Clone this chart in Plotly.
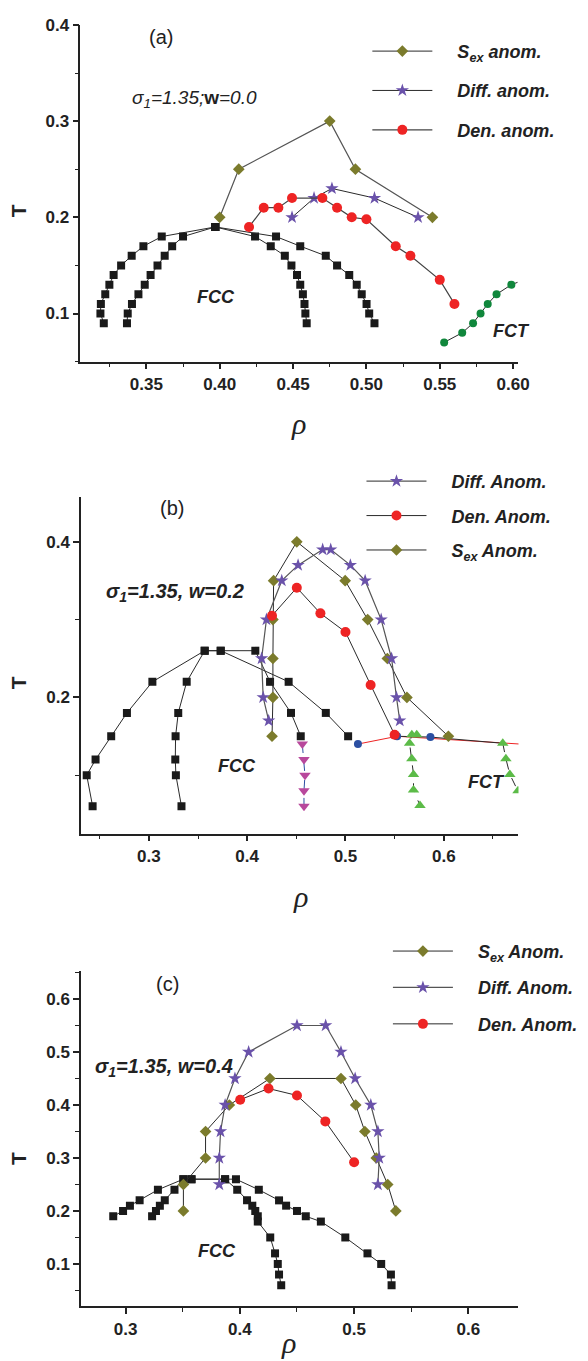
import plotly.graph_objects as go

W, H = 588, 1361

# ---------------- Panel (a): sigma1=1.35, w=0.0 ----------------
a_T_up = [0.09, 0.10, 0.11, 0.12, 0.13, 0.14, 0.15, 0.16, 0.17, 0.18, 0.19]
a_T_down = [0.19, 0.18, 0.17, 0.16, 0.15, 0.14, 0.13, 0.12, 0.11, 0.10, 0.09]
a_fcc1_rho = [0.321, 0.3187, 0.319, 0.322, 0.3248, 0.3277, 0.3328, 0.340, 0.348, 0.3605, 0.397]
a_fcc2_rho = [0.3368, 0.3373, 0.3402, 0.3446, 0.3489, 0.3529, 0.3576, 0.3625, 0.3676, 0.375, 0.397]
a_fcc3_rho = [0.397, 0.4241, 0.4348, 0.4444, 0.4489, 0.4527, 0.4549, 0.4567, 0.4578, 0.4584, 0.4593]
a_fcc4_rho = [0.397, 0.4384, 0.4549, 0.4723, 0.480, 0.4883, 0.4934, 0.4968, 0.5001, 0.5019, 0.5055]
a_sex_rho = [0.400, 0.413, 0.475, 0.4925, 0.545]
a_sex_T = [0.20, 0.25, 0.30, 0.25, 0.20]
a_diff_rho = [0.4493, 0.4643, 0.4765, 0.5055, 0.5352]
a_diff_T = [0.20, 0.22, 0.23, 0.22, 0.20]
a_den_rho = [0.420, 0.430, 0.440, 0.4493, 0.470, 0.480, 0.490, 0.500, 0.520, 0.530, 0.550, 0.560]
a_den_T = [0.19, 0.21, 0.21, 0.22, 0.22, 0.21, 0.20, 0.198, 0.17, 0.16, 0.135, 0.11]
a_fct_rho = [0.553, 0.5653, 0.5727, 0.5778, 0.5827, 0.5887, 0.5988, 0.6075]
a_fct_T = [0.07, 0.08, 0.09, 0.10, 0.11, 0.12, 0.13, 0.135]
a_xticks = [0.35, 0.40, 0.45, 0.50, 0.55, 0.60]
a_xlabels = ['0.35', '0.40', '0.45', '0.50', '0.55', '0.60']
a_yticks = [0.1, 0.2, 0.3, 0.4]
a_ylabels = ['0.1', '0.2', '0.3', '0.4']

# ---------------- Panel (b): sigma1=1.35, w=0.2 ----------------
b_fcc1_rho = [0.2428, 0.2368, 0.2458, 0.2617, 0.2777, 0.3036, 0.3568, 0.3731, 0.4422, 0.480, 0.5027]
b_fcc1_T = [0.06, 0.10, 0.12, 0.15, 0.18, 0.22, 0.26, 0.26, 0.22, 0.18, 0.15]
b_fcc2_rho = [0.3332, 0.3275, 0.3269, 0.3272, 0.3299, 0.3385, 0.3568, 0.3731, 0.4083, 0.4233, 0.4446, 0.4545]
b_fcc2_T = [0.06, 0.10, 0.12, 0.15, 0.18, 0.22, 0.26, 0.26, 0.26, 0.22, 0.18, 0.15]
b_mag_rho = [0.4561, 0.4578, 0.4588, 0.4578, 0.4578]
b_mag_T = [0.14, 0.12, 0.10, 0.08, 0.06]
b_red_rho = [0.5127, 0.5525, 0.690]
b_red_T = [0.140, 0.150, 0.139]
b_blue_rho = [0.5127, 0.5525, 0.5864]
b_blue_T = [0.140, 0.150, 0.149]
b_blk_rho = [0.5525, 0.5864, 0.6047, 0.660]
b_blk_T = [0.150, 0.149, 0.147, 0.141]
b_sex_rho = [0.4253, 0.4262, 0.4262, 0.4262, 0.4269, 0.4505, 0.4997, 0.5226, 0.5426, 0.5625, 0.6047]
b_sex_T = [0.15, 0.20, 0.25, 0.30, 0.35, 0.40, 0.35, 0.30, 0.25, 0.20, 0.15]
b_diff_rho = [0.4219, 0.4163, 0.4147, 0.4196, 0.4352, 0.4518, 0.4768, 0.485, 0.505, 0.520, 0.5363, 0.5469, 0.5519, 0.5552]
b_diff_T = [0.17, 0.20, 0.25, 0.30, 0.35, 0.37, 0.39, 0.39, 0.37, 0.35, 0.30, 0.25, 0.20, 0.17]
b_den_rho = [0.4253, 0.4505, 0.4745, 0.500, 0.5256, 0.550]
b_den_T = [0.305, 0.341, 0.308, 0.284, 0.216, 0.152]
b_grn1_rho = [0.5725, 0.5675, 0.5652, 0.5675, 0.5692, 0.5692, 0.5758]
b_grn1_T = [0.152, 0.152, 0.141, 0.121, 0.101, 0.081, 0.061]
b_grn2_rho = [0.660, 0.6632, 0.6672, 0.6755, 0.683]
b_grn2_T = [0.141, 0.121, 0.101, 0.080, 0.060]
b_xticks = [0.3, 0.4, 0.5, 0.6]
b_xlabels = ['0.3', '0.4', '0.5', '0.6']
b_yticks = [0.2, 0.4]
b_ylabels = ['0.2', '0.4']

# ---------------- Panel (c): sigma1=1.35, w=0.4 ----------------
c_fcc1_rho = [0.2892, 0.2978, 0.3038, 0.3123, 0.3283, 0.3506, 0.3577, 0.3871, 0.3966, 0.4166, 0.4343,
              0.4405, 0.450, 0.4577, 0.4709, 0.4923, 0.5117, 0.5237, 0.5322, 0.5328]
c_fcc1_T = [0.19, 0.20, 0.21, 0.22, 0.24, 0.26, 0.26, 0.26, 0.26, 0.24, 0.22,
            0.21, 0.20, 0.19, 0.18, 0.15, 0.12, 0.10, 0.08, 0.06]
c_fcc2_rho = [0.3232, 0.3266, 0.330, 0.3343, 0.3428, 0.3506, 0.3577, 0.3871, 0.3977, 0.4063, 0.4109,
              0.4135, 0.4157, 0.4157, 0.4266, 0.4308, 0.4332, 0.4343, 0.4362]
c_fcc2_T = [0.19, 0.20, 0.21, 0.22, 0.24, 0.26, 0.26, 0.26, 0.24, 0.22, 0.21,
            0.20, 0.19, 0.18, 0.15, 0.12, 0.10, 0.08, 0.06]
c_sex_rho = [0.3506, 0.3506, 0.370, 0.370, 0.3908, 0.4263, 0.4885, 0.5014, 0.5094, 0.5194, 0.5294, 0.5365]
c_sex_T = [0.20, 0.25, 0.30, 0.35, 0.40, 0.45, 0.45, 0.40, 0.35, 0.30, 0.25, 0.20]
c_diff_rho = [0.382, 0.382, 0.3831, 0.3871, 0.3957, 0.4077, 0.450, 0.4751, 0.4885, 0.5009, 0.5146, 0.5208, 0.522, 0.5208]
c_diff_T = [0.25, 0.30, 0.35, 0.40, 0.45, 0.50, 0.55, 0.55, 0.50, 0.45, 0.40, 0.35, 0.30, 0.25]
c_den_rho = [0.4003, 0.4251, 0.450, 0.4748, 0.500]
c_den_T = [0.41, 0.431, 0.418, 0.369, 0.292]
c_xticks = [0.3, 0.4, 0.5, 0.6]
c_xlabels = ['0.3', '0.4', '0.5', '0.6']
c_yticks = [0.1, 0.2, 0.3, 0.4, 0.5, 0.6]
c_ylabels = ['0.1', '0.2', '0.3', '0.4', '0.5', '0.6']

# ---------------- styles ----------------
BLK = '#1a1a1a'
OLIVE = '#7b7b2c'
PURPLE = '#6a52aa'
RED = '#ee2424'
DGREEN = '#10873c'
LGREEN = '#5cbb48'
MAGENTA = '#b8489c'
BLUE = '#2b4fa2'
LINE = dict(color='#2a2a2a', width=1)

fig = go.Figure()


def add(x, y, ax, **kw):
    xa, ya = ax
    kw.setdefault('showlegend', False)
    fig.add_trace(go.Scatter(x=x, y=y, xaxis=xa, yaxis=ya, **kw))


A, B, C = ('x', 'y'), ('x2', 'y2'), ('x3', 'y3')
sq = dict(symbol='square', size=8, color=BLK)
dia = dict(symbol='diamond', size=9, color=OLIVE)
star = dict(symbol='star', size=10, color=PURPLE)
circ = dict(symbol='circle', size=10, color=RED)

NB = '\u00a0' * 4


def LN(s):
    return NB + '<b><i>' + s + '</i></b>'


# panel a
for r, t in [(a_fcc1_rho, a_T_up), (a_fcc2_rho, a_T_up), (a_fcc3_rho, a_T_down), (a_fcc4_rho, a_T_down)]:
    add(r, t, A, mode='lines+markers', line=LINE, marker=sq)
add(a_fct_rho, a_fct_T, A, mode='lines+markers', line=LINE, marker=dict(symbol='circle', size=8, color=DGREEN))
add(a_sex_rho, a_sex_T, A, mode='lines+markers', line=dict(color='#555', width=1.2), marker=dia,
    showlegend=True, legend='legend', legendgroup='a1', legendrank=1, name=LN('S<sub>ex</sub> anom.'))
add(a_diff_rho, a_diff_T, A, mode='lines+markers', line=LINE, marker=star,
    showlegend=True, legend='legend', legendgroup='a2', legendrank=2, name=LN('Diff. anom.'))
add(a_den_rho, a_den_T, A, mode='lines+markers', line=dict(color='#444', width=1.2), marker=circ,
    showlegend=True, legend='legend', legendgroup='a3', legendrank=3, name=LN('Den. anom.'))

# panel b
add(b_fcc1_rho, b_fcc1_T, B, mode='lines+markers', line=LINE, marker=sq)
add(b_fcc2_rho, b_fcc2_T, B, mode='lines+markers', line=LINE, marker=sq)
add(b_mag_rho, b_mag_T, B, mode='lines+markers', line=dict(color=BLUE, width=1, dash='dash'),
    marker=dict(symbol='triangle-down', size=10, color=MAGENTA))
add(b_red_rho, b_red_T, B, mode='lines', line=dict(color=RED, width=1))
add(b_blk_rho, b_blk_T, B, mode='lines', line=LINE)
add(b_blue_rho, b_blue_T, B, mode='markers', marker=dict(symbol='circle', size=8, color=BLUE))
add(b_grn1_rho, b_grn1_T, B, mode='lines+markers', line=dict(color='#2a2a2a', width=1, dash='dash'),
    marker=dict(symbol='triangle-up', size=10, color=LGREEN))
add(b_grn2_rho, b_grn2_T, B, mode='lines+markers', line=dict(color='#2a2a2a', width=1, dash='dash'),
    marker=dict(symbol='triangle-up', size=10, color=LGREEN))
add(b_sex_rho, b_sex_T, B, mode='lines+markers', line=LINE, marker=dia,
    showlegend=True, legend='legend2', legendgroup='b3', legendrank=3, name=LN('S<sub>ex</sub> Anom.'))
add(b_diff_rho, b_diff_T, B, mode='lines+markers', line=dict(color='#555', width=1.2), marker=star,
    showlegend=True, legend='legend2', legendgroup='b1', legendrank=1, name=LN('Diff. Anom.'))
add(b_den_rho, b_den_T, B, mode='lines+markers', line=LINE, marker=circ,
    showlegend=True, legend='legend2', legendgroup='b2', legendrank=2, name=LN('Den. Anom.'))

# panel c
add(c_fcc1_rho, c_fcc1_T, C, mode='lines+markers', line=LINE, marker=sq)
add(c_fcc2_rho, c_fcc2_T, C, mode='lines+markers', line=LINE, marker=sq)
add(c_sex_rho, c_sex_T, C, mode='lines+markers', line=LINE, marker=dia,
    showlegend=True, legend='legend3', legendgroup='c1', legendrank=1, name=LN('S<sub>ex</sub> Anom.'))
add(c_diff_rho, c_diff_T, C, mode='lines+markers', line=dict(color='#555', width=1.2), marker=star,
    showlegend=True, legend='legend3', legendgroup='c2', legendrank=2, name=LN('Diff. Anom.'))
add(c_den_rho, c_den_T, C, mode='lines+markers', line=LINE, marker=circ,
    showlegend=True, legend='legend3', legendgroup='c3', legendrank=3, name=LN('Den. Anom.'))

# ---------------- layout ----------------
FONT = 'Liberation Sans, Arial, sans-serif'
tickfont = dict(family=FONT, size=17, color='#222')


def axis(rng, vals, labels, minor, domain, anchor):
    return dict(range=rng, domain=domain, anchor=anchor, tickmode='array', tickvals=vals,
                ticktext=['<b>' + s + '</b>' for s in labels],
                showline=True, linecolor='#222', linewidth=1.5, ticks='outside',
                ticklen=6, tickwidth=1.5, tickcolor='#222', showgrid=False, zeroline=False,
                tickfont=tickfont,
                minor=dict(ticks='outside', ticklen=4, tickwidth=1.2, tickcolor='#222',
                           tickmode='linear', dtick=minor, tick0=0, showgrid=False))


def dx(p0, p1):
    return [p0 / W, p1 / W]


def dy(top, bot):
    return [1 - bot / H, 1 - top / H]


def P(px):
    return px / W


def Q(py):
    return 1 - py / H


leg_common = dict(bgcolor='rgba(0,0,0,0)', borderwidth=0, itemwidth=60,
                  xanchor='left', yanchor='top',
                  font=dict(family=FONT, size=18, color='#222'))

fig.update_layout(
    width=W, height=H, autosize=False,
    margin=dict(l=0, r=0, t=0, b=0),
    paper_bgcolor='white', plot_bgcolor='white',
    xaxis=axis([0.305, 0.603], a_xticks, a_xlabels, 0.025, dx(82, 528.3), 'y'),
    yaxis=axis([0.05, 0.4], a_yticks, a_ylabels, 0.05, dy(16, 355), 'x'),
    xaxis2=axis([0.231, 0.676], b_xticks, b_xlabels, 0.05, dx(82.7, 529.3), 'y2'),
    yaxis2=axis([0.025, 0.457], b_yticks, b_ylabels, 0.1, dy(491.7, 830), 'x2'),
    xaxis3=axis([0.261, 0.643], c_xticks, c_xlabels, 0.05, dx(82.7, 528.3), 'y3'),
    yaxis3=axis([0.02, 0.653], c_yticks, c_ylabels, 0.05, dy(968.3, 1306), 'x3'),
    legend=dict(x=P(375), y=Q(24), tracegroupgap=13, **leg_common),
    legend2=dict(x=P(369), y=Q(457), tracegroupgap=8, **leg_common),
    legend3=dict(x=P(396), y=Q(930), tracegroupgap=10, **leg_common),
)

ann = []


def txt(px, py, text, size=16, family=FONT, **kw):
    kw.setdefault('xanchor', 'center')
    kw.setdefault('yanchor', 'middle')
    ann.append(dict(x=P(px), y=Q(py), xref='paper', yref='paper', text=text, showarrow=False,
                    font=dict(family=family, size=size, color='#222'), **kw))


# panel labels
txt(164, 28, '(a)', size=20)
txt(176, 502, '(b)', size=20)
txt(171, 981, '(c)', size=20)
# parameter labels
txt(133, 91, '<i>σ<sub>1</sub>=1.35;</i><b>w</b><i>=0.0</i>', size=19, xanchor='left')
txt(106, 587, '<b><i>σ<sub>1</sub>=1.35, w=0.2</i></b>', size=20, xanchor='left')
txt(95, 1066, '<b><i>σ<sub>1</sub>=1.35, w=0.4</i></b>', size=20, xanchor='left')
# phase labels
txt(220, 290, '<b><i>FCC</i></b>', size=18)
txt(522, 324, '<b><i>FCT</i></b>', size=18)
txt(242, 762, '<b><i>FCC</i></b>', size=18)
txt(497, 778, '<b><i>FCT</i></b>', size=18)
txt(222, 1250, '<b><i>FCC</i></b>', size=18)
# axis titles
for yy in [203, 678, 1157]:
    txt(19, yy, '<b>T</b>', size=21, textangle=-90)
for yy, xx in [(417, 305), (893, 307), (1342, 294)]:
    txt(xx, yy, '<i>ρ</i>', size=30, family='Liberation Serif, Times New Roman, serif')

fig.update_layout(annotations=ann)
fig.write_html('out.html', config={'displayModeBar': False},
               post_script="document.body.style.margin='0';document.body.style.overflow='hidden';")
